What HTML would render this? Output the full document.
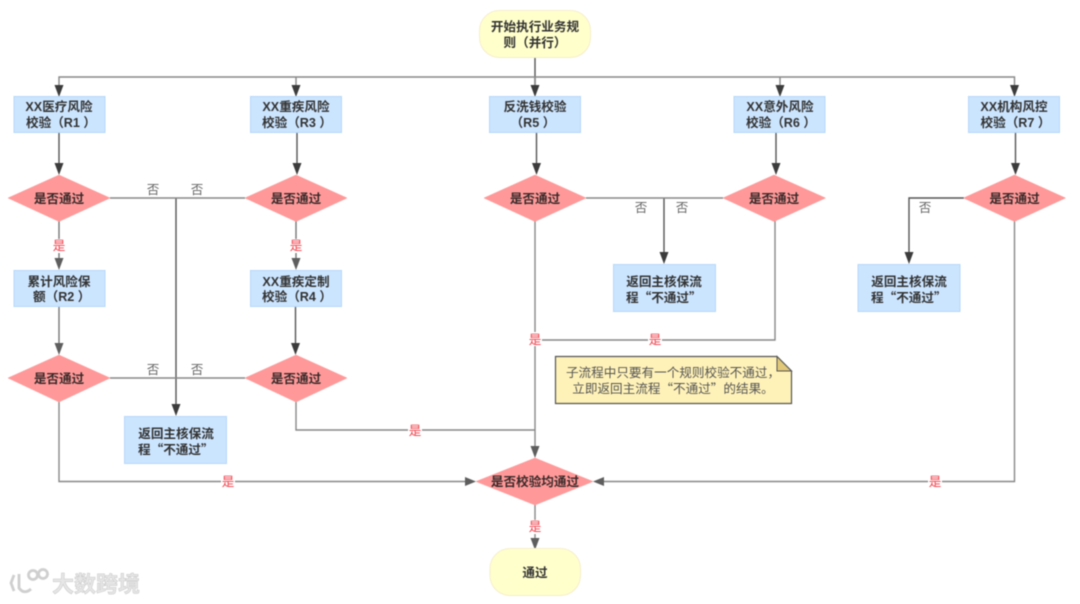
<!DOCTYPE html>
<html lang="zh-CN"><head><meta charset="utf-8">
<style>
html,body{margin:0;padding:0;background:#fff;width:1080px;height:604px;overflow:hidden}
svg{display:block;filter:blur(0.4px)}
text{font-family:"Liberation Sans","Noto Sans CJK SC",sans-serif;text-spacing-trim:space-all;font-kerning:none;white-space:pre}
.q{font-family:"Noto Sans CJK SC",sans-serif}
.t{font-size:12.6px;font-weight:bold;fill:#333;text-anchor:middle}
.ts{text-anchor:start}
.n{font-size:12.6px;fill:#666;text-anchor:middle}
.y{font-size:12.6px;fill:#f0404a;text-anchor:middle}
.m{font-size:12.6px;fill:#555;text-anchor:middle}
.b{fill:#cce5ff;stroke:#b5d8f8;stroke-width:1}
.d{fill:#ff9999;stroke:#ff9696;stroke-width:.5}
.s{fill:#ffffcc;stroke:#f6eecb;stroke-width:1}
.l{fill:none;stroke:#888;stroke-width:1.4}
.a{fill:#3c3c3c}
.lb{fill:#fff}
</style></head><body>
<svg width="1080" height="604" viewBox="0 0 1080 604" xmlns="http://www.w3.org/2000/svg">
<!-- connectors -->
<path class="l" style="stroke:#555" d="M535 58V90"/>
<path class="l" d="M59 90V77H1014.500V90M296 90V77M535 77V90M780 90V77"/>
<path class="l" style="stroke:#555" d="M59 132V170M297 132V170M536.500 132V170M776 132V170M1015.500 132V170M295.500 306V350M176 198V410M664 198V258M909 258V198H964"/>
<path class="l" style="stroke:#777" d="M59 221V262M296 221V262M59 306V350"/>
<path class="l" d="M110 198H245M110 378H245M586 198H723M535 221V452M296 402V430H535M775 221V340H535M59 402V481.500H468M1014.500 221V481.500H600M535 505V540"/>
<!-- arrowheads -->
<g class="a">
<path d="M59 97l-4.500-12h9zM296 97l-4.500-12h9zM535 97l-4.500-12h9zM780 97l-4.500-12h9zM1014.500 97l-4.500-12h9z"/>
<path d="M59 175l-4.500-12h9zM297 175l-4.500-12h9zM536.500 175l-4.500-12h9zM776 175l-4.500-12h9zM1015.500 175l-4.500-12h9z"/>
<path d="M295.500 355l-4.500-12h9zM176 416l-4.500-12h9zM664 264l-4.500-12h9zM909 264l-4.500-12h9z"/>
</g>
<g fill="#5e5e5e">
<path d="M59 270l-4.500-12h9zM296 270l-4.500-12h9zM59 355l-4.500-12h9zM535 458l-4.500-12h9zM535 550l-4.500-12h9zM476 481.500l-11-4.500v9zM593 481.500l11-4.500v9z"/>
</g>
<!-- start / end -->
<rect class="s" x="479.500" y="10.500" width="111" height="47" rx="20"/>
<text class="t" x="535" y="31">开始执行业务规</text><text class="t" x="535" y="47">则（并行）</text>
<rect class="s" x="490" y="548.500" width="90.500" height="47" rx="20"/>
<text class="t" x="535" y="577">通过</text>
<!-- boxes -->
<rect class="b" x="14" y="96.500" width="91" height="36"/>
<text class="t" x="59" y="111">XX医疗风险</text><text class="t ts" x="26" y="127">校验（R1 ）</text>
<rect class="b" x="250.500" y="96.500" width="91" height="36"/>
<text class="t" x="296" y="111">XX重疾风险</text><text class="t ts" x="262" y="127">校验（R3 ）</text>
<rect class="b" x="489.500" y="96.500" width="91" height="36"/>
<text class="t" x="535" y="111">反洗钱校验</text><text class="t ts" x="510.500" y="127">（R5 ）</text>
<rect class="b" x="734" y="96.500" width="91" height="36"/>
<text class="t" x="780" y="111">XX意外风险</text><text class="t ts" x="746" y="127">校验（R6 ）</text>
<rect class="b" x="968.500" y="96.500" width="91" height="36"/>
<text class="t" x="1014" y="111">XX机构风控</text><text class="t ts" x="980.500" y="127">校验（R7 ）</text>
<rect class="b" x="14" y="270.500" width="91" height="36"/>
<text class="t" x="59" y="286">累计风险保</text><text class="t ts" x="33" y="301">额（R2 ）</text>
<rect class="b" x="250.500" y="270.500" width="91" height="36"/>
<text class="t" x="296" y="286">XX重疾定制</text><text class="t ts" x="262" y="301">校验（R4 ）</text>
<rect class="b" x="124.500" y="416.500" width="102" height="47"/>
<text class="t" x="176" y="438">返回主核保流</text><text class="t ts" x="138" y="454">程<tspan class="q">“</tspan>不通过<tspan class="q">”</tspan></text>
<rect class="b" x="613.500" y="264.500" width="102" height="47"/>
<text class="t" x="664" y="286">返回主核保流</text><text class="t ts" x="626" y="302">程<tspan class="q">“</tspan>不通过<tspan class="q">”</tspan></text>
<rect class="b" x="858" y="264.500" width="102" height="47"/>
<text class="t" x="909" y="286">返回主核保流</text><text class="t ts" x="871" y="302">程<tspan class="q">“</tspan>不通过<tspan class="q">”</tspan></text>
<!-- diamonds -->
<g class="d">
<path d="M59 175L110 198L59 221.500L8 198Z"/>
<path d="M296 175L347 198L296 221.500L245 198Z"/>
<path d="M535 175L586 198L535 221.500L484 198Z"/>
<path d="M774 175L825.500 198L774 221.500L723 198Z"/>
<path d="M1014.500 175L1065.500 198L1014.500 221.500L963.500 198Z"/>
<path d="M59 355L110 378L59 402L8 378Z"/>
<path d="M296 355L347 378L296 402L245 378Z"/>
<path d="M535 458L593 481.500L535 505L476 481.500Z"/>
</g>
<g class="t" style="fill:#3a2a2a">
<text x="59" y="203">是否通过</text><text x="296" y="203">是否通过</text><text x="535" y="203">是否通过</text><text x="774" y="203">是否通过</text><text x="1014.500" y="203">是否通过</text>
<text x="59" y="383">是否通过</text><text x="296" y="383">是否通过</text><text x="535" y="486">是否校验均通过</text>
</g>
<!-- no labels -->
<g class="n">
<text x="153" y="194">否</text><text x="197" y="194">否</text>
<text x="641" y="212">否</text><text x="682" y="212">否</text><text x="925" y="212">否</text>
<text x="153" y="374">否</text><text x="197" y="374">否</text>
</g>
<!-- yes labels -->
<g class="lb">
<rect x="52" y="239" width="14" height="14"/><rect x="289" y="239" width="14" height="14"/>
<rect x="528" y="332" width="14" height="14"/><rect x="648" y="332" width="14" height="14"/>
<rect x="408" y="423" width="14" height="14"/><rect x="221" y="474" width="14" height="14"/>
<rect x="928" y="474" width="14" height="14"/><rect x="528" y="520" width="14" height="14"/>
</g>
<g class="y">
<text x="59" y="250">是</text><text x="296" y="250">是</text>
<text x="535" y="344">是</text><text x="655" y="344">是</text>
<text x="415" y="435">是</text><text x="228" y="486">是</text>
<text x="935" y="486">是</text><text x="535" y="531">是</text>
</g>
<!-- note -->
<path d="M555.500 356.500H777L791.500 371V403.500H555.500Z" fill="#fff2b8" stroke="#555" stroke-width="1.200"/>
<path d="M777 356.500V371H791.500Z" fill="#e0c878" stroke="#555" stroke-width="1"/>
<text class="m" x="673" y="377">子流程中只要有一个规则校验不通过，</text>
<text class="m" x="673" y="393">立即返回主流程<tspan class="q">“</tspan>不通过<tspan class="q">”</tspan>的结果。</text>
<!-- watermark -->
<g fill="none" stroke="#cfcfcf" stroke-width="2.800">
<path d="M14 575L11 583L14 591M19 574V588Q24 595 31 589"/>
<circle cx="33" cy="575" r="4.500"/><circle cx="43" cy="574" r="4.500"/>
</g>
<text x="52" y="592" style="font-size:22px;font-weight:bold;fill:#e6e6e6;stroke:#c8c8c8;stroke-width:.5">大数跨境</text>
</svg>
</body></html>
